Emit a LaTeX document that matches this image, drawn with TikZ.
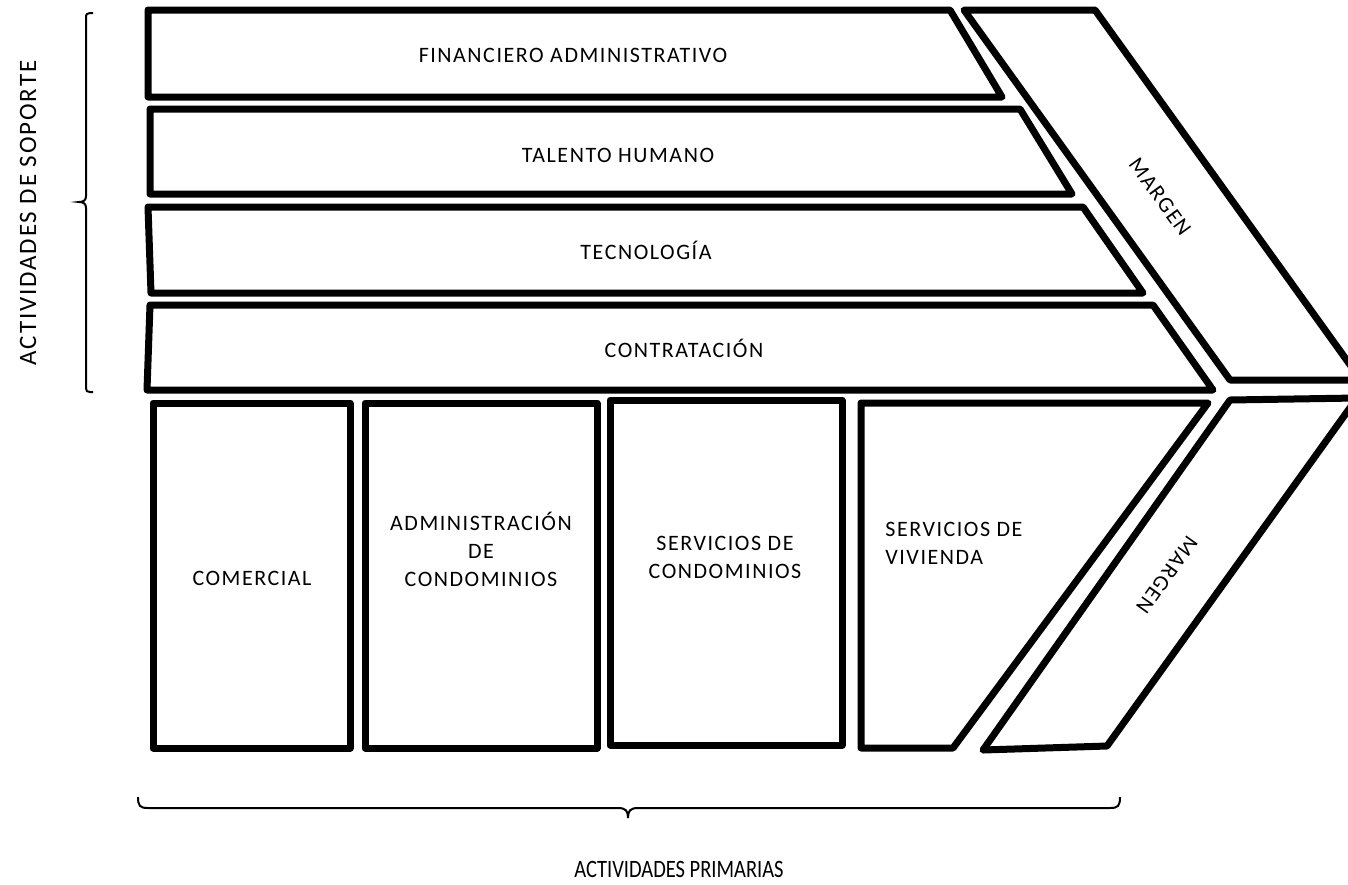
\documentclass[tikz,border=0pt]{standalone}
\usepackage{fontspec}
\setmainfont{Carlito}
\begin{document}
\begin{tikzpicture}[x=0.5pt,y=-0.5pt,
  box/.style={line width=3.5pt,line join=round},
  lbl/.style={font=\fontsize{11}{13.8}\selectfont\addfontfeature{LetterSpace=7},align=center,inner sep=0pt,text height=7pt,text depth=0pt},
  side/.style={font=\fontsize{12.5}{14}\selectfont\addfontfeature{LetterSpace=7.5},inner sep=0pt,text height=8pt,text depth=0pt},
  bottomlbl/.style={font=\fontsize{12.5}{14}\selectfont,inner sep=0pt,text height=8pt,text depth=0pt},
  brace/.style={line width=1pt}]
\useasboundingbox (0,0) rectangle (1348,884);
\clip (0,0) rectangle (1348,884);
% support activities
\draw[box] (148,10) -- (950,10) -- (1002,97) -- (148,97) -- cycle;
\draw[box] (150,109) -- (1020,109) -- (1072,194) -- (150,194) -- cycle;
\draw[box] (148,207) -- (1083,207) -- (1143,293) -- (151,293) -- cycle;
\draw[box] (150,305) -- (1153,305) -- (1213,390) -- (147,390) -- cycle;
% margins
\draw[box] (964,10) -- (1095,10) -- (1361,380) -- (1230,380) -- cycle;
\draw[box] (1230,400) -- (1357,398) -- (1107,746) -- (983,750) -- cycle;
% primary activities
\draw[box] (153,403) rectangle (350,748);
\draw[box] (365,403) rectangle (597,748);
\draw[box] (610,400) rectangle (842,745);
\draw[box] (861,403) -- (1208,403) -- (953,748) -- (861,748) -- cycle;
% texts
\node[lbl] (fin) at (573,55) {FINANCIERO ADMINISTRATIVO};
\node[lbl] (tal) at (618,155) {TALENTO HUMANO};
\node[lbl] (tec) at (646,252) {TECNOLOGÍA};
\node[lbl] (con) at (684,350) {CONTRATACIÓN};
\node[lbl] (com) at (252,578) {COMERCIAL};
\node[lbl] (adm) at (481,579) {ADMINISTRACIÓN\\DE\\CONDOMINIOS};
\node[lbl] (ser) at (725,571) {SERVICIOS DE\\CONDOMINIOS};
\node[lbl,align=left,anchor=west] (viv) at (885,557) {SERVICIOS DE\\VIVIENDA};
\node[lbl,rotate=-54] (m1) at (1160,197) {MARGEN};
\node[lbl,rotate=-125.5] (m2) at (1167,575) {MARGEN};
\node[side,rotate=90] (sop) at (28,213) {ACTIVIDADES DE SOPORTE};
\node[bottomlbl,xscale=0.82] (pri) at (679,869) {ACTIVIDADES PRIMARIAS};
% braces
\draw[brace] (93,13) -- (90,13) .. controls (87,13) and (86,14) .. (86,18) -- (86,196)
  .. controls (86,200) and (84,202) .. (79,202) .. controls (84,202) and (86,204) .. (86,208)
  -- (86,388) .. controls (86,391) and (87,392) .. (90,392) -- (93,392);
\draw[brace] (138,797) .. controls (138,806) and (140,808) .. (148,808) -- (618,808)
  .. controls (626,808) and (628,811) .. (628,818) .. controls (628,811) and (630,808) .. (638,808)
  -- (1110,808) .. controls (1118,808) and (1120,806) .. (1120,797);
\end{tikzpicture}
\end{document}
